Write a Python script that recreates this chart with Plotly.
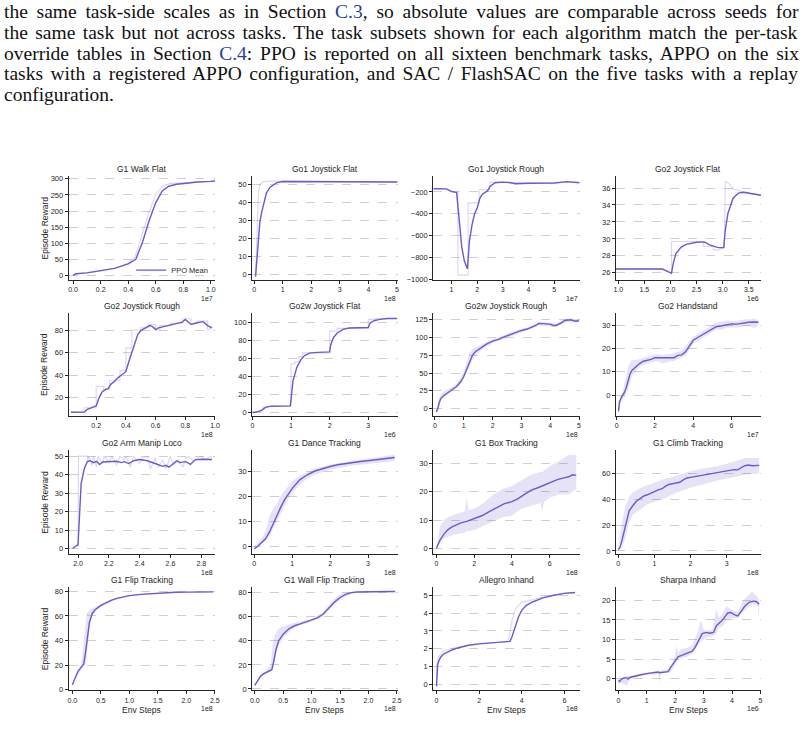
import plotly.graph_objects as go
from plotly.subplots import make_subplots

W, H = 805, 734

# ---------------- data (x in units of the offset shown under each axis) ----------------
titles = ["G1 Walk Flat", "Go1 Joystick Flat", "Go1 Joystick Rough", "Go2 Joystick Flat",
          "Go2 Joystick Rough", "Go2w Joystick Flat", "Go2w Joystick Rough", "Go2 Handstand",
          "Go2 Arm Manip Loco", "G1 Dance Tracking", "G1 Box Tracking", "G1 Climb Tracking",
          "G1 Flip Tracking", "G1 Wall Flip Tracking", "Allegro Inhand", "Sharpa Inhand"]
offsets = ["1e7", "1e8", "1e7", "1e6", "1e8", "1e6", "1e8", "1e7",
           "1e8", "1e8", "1e8", "1e8", "1e8", "1e8", "1e8", "1e6"]

# 1 G1 Walk Flat
walk_x = [0, 0.02, 0.1, 0.2, 0.3, 0.4, 0.455, 0.503, 0.551, 0.6, 0.647, 0.695, 0.75, 0.84, 0.9, 1.0, 1.03]
walk_y = [0, 5, 8, 14, 22, 36, 50, 102, 169, 226, 262, 277, 283, 287, 290, 292, 293]
walk_raw_x = [0, 0.1, 0.2, 0.3, 0.4, 0.45, 0.5, 0.55, 0.6, 0.65, 0.7, 0.8, 0.9, 1.03]
walk_raw_y = [3, 8, 14, 22, 38, 58, 125, 195, 252, 278, 285, 288, 291, 293]

# 2 Go1 Joystick Flat
g1f_x = [0.05, 0.1, 0.14, 0.2, 0.26, 0.35, 0.43, 0.55, 0.78, 1, 2, 3, 4, 5.02]
g1f_y = [-1, 8, 19.7, 29, 34.4, 41, 45.4, 48.5, 51, 51.8, 51.8, 51.5, 51.4, 51.5]
g1f_raw_x = [0.05, 0.1, 0.15, 0.2, 0.3, 0.5, 1, 5.02]
g1f_raw_y = [-1, 30, 45, 50, 51.5, 52, 52, 51.5]

# 3 Go1 Joystick Rough
g1r_x = [0.3, 0.8, 1.0, 1.2, 1.3, 1.4, 1.5, 1.62, 1.7, 1.8, 1.9, 2.0, 2.1, 2.2, 2.4, 2.5, 2.7,
         3.0, 3.3, 3.5, 4.0, 5.0, 5.5, 5.99]
g1r_y = [-170, -172, -195, -205, -450, -700, -830, -903, -650, -500, -400, -350, -260, -220,
         -190, -150, -115, -110, -115, -125, -120, -118, -105, -115]
g1r_raw_x = [0.3, 0.8, 0.95, 1.25, 1.25, 1.65, 1.65, 2.08, 2.08, 2.48, 2.5, 3.0, 4.0, 5.0, 5.99]
g1r_raw_y = [-170, -170, -200, -200, -960, -960, -300, -300, -180, -180, -110, -110, -118, -115, -112]

# 4 Go2 Joystick Flat
g2f_x = [0.955, 1.85, 1.9, 2.0, 2.02, 2.05, 2.1, 2.2, 2.3, 2.5, 2.65, 2.75, 2.9, 3.0, 3.02,
         3.05, 3.1, 3.2, 3.3, 3.4, 3.6, 3.735]
g2f_y = [26.45, 26.45, 26.3, 26.0, 25.95, 27, 28.2, 29.0, 29.35, 29.6, 29.65, 29.3, 29.0, 28.95,
         29.0, 31, 33, 34.8, 35.4, 35.5, 35.3, 35.15]
g2f_raw_x = [0.955, 1.85, 2.0, 2.02, 2.02, 2.63, 2.63, 2.82, 2.82, 2.95, 2.95, 3.03, 3.05, 3.12,
             3.2, 3.35, 3.5, 3.735]
g2f_raw_y = [26.45, 26.45, 26.0, 26.0, 29.7, 29.7, 29.1, 29.1, 28.7, 28.7, 28.95, 28.95, 36.8,
             36.5, 35.9, 35.6, 35.4, 35.15]

# 5 Go2 Joystick Rough
g2r_x = [0.03, 0.12, 0.14, 0.2, 0.22, 0.24, 0.26, 0.28, 0.3, 0.32, 0.35, 0.38, 0.4, 0.42, 0.44,
         0.46, 0.48, 0.5, 0.53, 0.56, 0.58, 0.6, 0.62, 0.65, 0.7, 0.75, 0.78, 0.8, 0.82, 0.84,
         0.88, 0.92, 0.95, 0.98]
g2r_y = [7, 7.2, 9.5, 12.5, 20, 25, 27, 28, 32, 34, 38, 41, 43, 52, 60, 70, 76, 79.5, 82, 84,
         83, 80.5, 82, 83, 84.5, 86, 87, 89.5, 87, 85, 86.5, 87.5, 84, 82]
g2r_raw_x = [0.03, 0.12, 0.12, 0.2, 0.2, 0.25, 0.25, 0.29, 0.29, 0.36, 0.36, 0.4, 0.4, 0.44,
             0.44, 0.5, 0.5, 0.55, 0.55, 0.6, 0.6, 0.63, 0.63, 0.7, 0.7, 0.78, 0.78, 0.84,
             0.84, 0.88, 0.88, 0.95, 0.95, 0.98]
g2r_raw_y = [7, 7, 11, 11, 30, 30, 27, 27, 35, 35, 44, 44, 64, 64, 80, 80, 82, 82, 85, 85,
             80, 80, 84, 84, 86, 86, 90, 90, 86, 86, 88, 88, 80, 82]

# 6 Go2w Joystick Flat
g2wf_x = [0, 0.15, 0.25, 0.35, 0.5, 0.7, 0.98, 1.0, 1.05, 1.15, 1.25, 1.35, 1.5, 1.7, 2.0,
          2.03, 2.1, 2.2, 2.35, 2.5, 2.8, 3.0, 3.05, 3.15, 3.3, 3.5, 3.75]
g2wf_y = [0, 1, 3, 6, 7, 7.3, 7.3, 15, 35, 50, 58, 63, 66, 66.5, 67, 75, 83, 88, 92, 93.5, 94,
          94, 99, 101.5, 103, 104, 104]
g2wf_raw_x = [0, 0.1, 0.1, 0.25, 0.28, 0.4, 0.4, 1.0, 1.0, 1.1, 1.1, 1.2, 1.2, 1.3, 1.3, 2.0,
              2.0, 2.2, 2.2, 3.0, 3.0, 3.2, 3.2, 3.75]
g2wf_raw_y = [0, 0, 1, 1, 6, 6, 7, 7, 54, 54, 56, 56, 62, 62, 66, 66, 90, 90, 93, 93, 103,
              103, 104, 104]

# 7 Go2w Joystick Rough
g2wr_x = [0.05, 0.1, 0.15, 0.2, 0.3, 0.45, 0.6, 0.75, 0.9, 1.0, 1.1, 1.2, 1.3, 1.4, 1.6, 1.8,
          2.0, 2.1, 2.2, 2.4, 2.6, 2.8, 3.0, 3.2, 3.4, 3.5, 3.6, 3.8, 4.0, 4.1, 4.2, 4.4, 4.5,
          4.7, 4.8, 4.9, 5.0]
g2wr_y = [-5, 0, 8, 14, 18, 22, 26, 31, 38, 45, 55, 66, 75, 80, 86, 91, 95, 96, 97.5, 101, 104,
          107.5, 110, 112, 115, 117, 120, 120, 119, 117, 117, 121, 124, 125, 124.5, 123, 124]
g2wr_band_x = [0.05, 0.1, 0.2, 0.3, 0.45, 0.6, 0.75, 0.9, 1.0, 1.1, 1.2, 1.3, 1.4, 1.6, 1.8,
               2.0, 2.2, 2.4, 2.6, 2.8, 3.0, 3.2, 3.4, 3.6, 3.8, 4.0, 4.2, 4.4, 4.6, 4.8, 5.0]
g2wr_hi = [-3, 8, 20, 24, 27, 30, 35, 44, 52, 66, 78, 84, 86, 89, 94, 98, 100, 104, 107, 110,
           112, 114, 118, 122, 122, 121, 119, 124, 127, 127, 125]
g2wr_lo = [-6, -2, 12, 16, 20, 24, 29, 35, 42, 50, 60, 68, 75, 82, 88, 92, 95, 99, 102, 105,
           108, 110, 113, 117, 117, 116, 115, 119, 122, 121, 122]

# 8 Go2 Handstand
g2h_x = [0.1, 0.15, 0.25, 0.4, 0.5, 0.6, 0.7, 0.8, 1.0, 1.2, 1.4, 1.6, 1.8, 2.0, 2.2, 2.4, 2.6,
         2.8, 3.0, 3.2, 3.4, 3.6, 3.8, 4.0, 4.3, 4.6, 4.9, 5.2, 5.5, 5.8, 6.0, 6.3, 6.6, 6.9,
         7.2, 7.4]
g2h_y = [-7, -3, -1, 1, 3, 6, 9, 10.5, 12, 13.5, 14.5, 14.8, 15.3, 16, 16, 15.8, 15.7, 15.8, 16,
         17, 17.2, 18.5, 21, 23.5, 25, 26.5, 28, 29.3, 29.7, 30.3, 30.5, 30.4, 30.9, 31.2, 31.3,
         31.2]
g2h_band_x = [0.1, 0.2, 0.3, 0.4, 0.5, 0.6, 0.7, 0.8, 1.0, 1.2, 1.4, 1.6, 1.8, 2.0, 2.2, 2.4,
              2.6, 2.8, 3.0, 3.2, 3.4, 3.6, 3.8, 4.0, 4.3, 4.6, 4.9, 5.2, 5.5, 5.8, 6.1, 6.4,
              6.7, 7.0, 7.2, 7.4]
g2h_hi = [-6, -1, 1, 4, 8, 12, 14, 15, 15, 15.5, 16, 16.5, 17, 17.5, 17.5, 17, 17.5, 17.5, 18,
          18.5, 19, 21, 23, 25, 26.5, 28, 29.5, 31, 31.5, 32, 31.5, 32, 32.5, 32.5, 32.8, 32]
g2h_lo = [-7.5, -4, -2, -1, 0, 2, 5, 8, 10, 12, 13, 13.5, 14, 14.5, 14.5, 13.5, 14, 14.5, 14.5,
          15.5, 16, 17, 19.5, 22, 23.5, 25, 26.5, 28, 28, 29, 29, 29, 29.5, 29.5, 28.5, 30]

# 9 Go2 Arm Manip Loco
arm_x = [1.965, 1.98, 1.99, 2.0, 2.01, 2.02, 2.04, 2.06, 2.08, 2.1, 2.12, 2.14, 2.16, 2.2, 2.25,
         2.28, 2.3, 2.33, 2.36, 2.4, 2.45, 2.5, 2.53, 2.55, 2.57, 2.59, 2.62, 2.64, 2.66, 2.7,
         2.73, 2.76, 2.8, 2.84, 2.87]
arm_y = [0, 1.2, 1.5, 2, 20, 35, 43, 47, 47.5, 46.5, 47.2, 45.5, 46.8, 47, 47.2, 46.5, 47, 46,
         47.5, 48.2, 47.5, 46, 45, 44.5, 45, 44, 46, 47.5, 46.5, 47, 45.5, 48, 48.3, 48.2, 48.2]
arm_raw_x = [1.965, 1.99, 2.0, 2.003, 2.06, 2.065, 2.07, 2.09, 2.1, 2.12, 2.13, 2.16, 2.17, 2.2,
             2.22, 2.25, 2.27, 2.3, 2.31, 2.34, 2.36, 2.4, 2.42, 2.45, 2.47, 2.5, 2.52, 2.55,
             2.57, 2.6, 2.62, 2.65, 2.68, 2.7, 2.72, 2.75, 2.78, 2.8, 2.83, 2.86, 2.87]
arm_raw_y = [0, 2, 2, 50, 50, 47, 50, 45, 50, 44, 50, 46, 50, 47, 50, 45, 50, 48, 50, 44, 50, 46,
             49, 50, 43, 49, 44, 48, 43, 50, 45, 48, 44, 49, 50, 47, 49, 50, 48, 50, 49]

# 10 G1 Dance Tracking
dance_x = [0, 0.1, 0.2, 0.3, 0.4, 0.5, 0.6, 0.7, 0.8, 0.9, 1.0, 1.2, 1.4, 1.6, 1.8, 2.0, 2.2,
           2.5, 2.8, 3.1, 3.4, 3.7]
dance_y = [-1, 0, 1.5, 3, 5.5, 9, 12.5, 15.5, 18.5, 21, 23, 26.5, 28.5, 30, 31, 31.8, 32.5,
           33.3, 33.8, 34.3, 34.8, 35.4]
dance_band_x = [0, 0.2, 0.3, 0.4, 0.5, 0.6, 0.7, 0.8, 0.9, 1.0, 1.2, 1.4, 1.6, 2.0, 2.5, 3.0, 3.7]
dance_hi = [0, 3, 6, 12, 15, 17, 20, 22, 24, 26, 28, 29.5, 31, 32.5, 34, 35, 36.5]
dance_lo = [-1.5, 1, 2, 4, 7, 10, 13, 16, 19, 21, 24.5, 27, 28.5, 30.5, 32, 33, 34]

# 11 G1 Box Tracking
box_x = [0, 0.2, 0.4, 0.6, 0.8, 1.0, 1.3, 1.6, 2.0, 2.4, 2.8, 3.2, 3.6, 4.0, 4.3, 4.6, 5.0,
         5.4, 5.7, 6.0, 6.4, 6.8, 7.0, 7.2, 7.4]
box_y = [0, 3, 5, 6.5, 7.5, 8.2, 9, 9.5, 10.5, 11.5, 13, 14.5, 15.8, 16.5, 17.5, 18.8, 20.5,
         21.5, 22.3, 23.2, 24.3, 25, 25.3, 26, 25.8]
box_band_x = [0, 0.2, 0.4, 0.6, 1.0, 1.5, 1.6, 1.7, 2.0, 2.5, 3.0, 3.5, 4.0, 4.5, 5.0, 5.5,
              5.6, 5.7, 6.0, 6.5, 7.0, 7.4]
box_hi = [0, 8, 10, 11, 12, 13, 18, 13.5, 14, 16, 19, 21, 22, 24, 26, 27, 27, 27.5, 29, 31, 33, 33]
box_lo = [-0.5, 2, 3.5, 4, 5, 5.5, 6, 6, 6.5, 8, 9.5, 11, 11.5, 14, 15, 16, 13, 16.5, 18, 19, 19, 21]

# 12 G1 Climb Tracking
climb_x = [0, 0.05, 0.1, 0.15, 0.2, 0.25, 0.3, 0.4, 0.5, 0.6, 0.7, 0.8, 0.9, 1.0, 1.1, 1.2,
           1.3, 1.4, 1.5, 1.6, 1.7, 1.8, 1.9, 2.0, 2.2, 2.4, 2.6, 2.8, 3.0, 3.2, 3.3, 3.4, 3.5,
           3.6, 3.7, 3.9]
climb_y = [1, 3, 8, 14, 20, 26, 31, 35, 38.5, 40.5, 42.5, 43.5, 45, 46, 47.3, 48, 50, 51.5, 52,
           52.5, 53.2, 55, 56.5, 57, 58, 59, 60, 61.5, 62.5, 63, 62.8, 64.5, 66, 66.5, 66, 66.3]
climb_band_x = [0, 0.1, 0.2, 0.3, 0.4, 0.5, 0.6, 0.7, 0.8, 1.0, 1.3, 1.6, 2.0, 2.4, 2.8, 3.2,
                3.5, 3.9]
climb_hi = [2, 22, 35, 42, 45, 47, 48.5, 50, 51, 53, 56, 58, 62, 64, 66, 69, 72, 72]
climb_lo = [0, 3, 10, 22, 28, 30, 32, 34, 36, 38, 41, 45, 49, 52, 55, 57, 59, 60]

# 13 G1 Flip Tracking
flip_x = [0, 0.05, 0.1, 0.15, 0.2, 0.23, 0.26, 0.3, 0.35, 0.4, 0.5, 0.6, 0.7, 0.8, 0.9, 1.0,
          1.2, 1.4, 1.6, 1.8, 2.0, 2.2, 2.47]
flip_y = [4, 10, 15, 18, 21, 30, 42, 55, 62, 65, 68.5, 71, 73, 74.5, 75.8, 76.5, 77.5, 78.2,
          78.8, 79.2, 79.3, 79.4, 79.5]
flip_band_x = [0, 0.05, 0.1, 0.15, 0.18, 0.22, 0.25, 0.3, 0.35, 0.4, 0.5, 0.6, 0.7, 0.8, 1.0,
               1.5, 2.47]
flip_hi = [5, 12, 16, 20, 30, 50, 62, 65, 66, 67, 69.5, 72, 73.5, 75, 76.8, 78.5, 79.8]
flip_lo = [3, 9, 13, 16, 18, 20, 26, 50, 60, 63.5, 67.5, 70, 72, 73.5, 76, 78, 79.2]

# 14 G1 Wall Flip Tracking
wall_x = [0, 0.05, 0.1, 0.15, 0.2, 0.25, 0.3, 0.33, 0.37, 0.42, 0.5, 0.6, 0.7, 0.8, 0.9, 1.0,
          1.1, 1.2, 1.3, 1.4, 1.5, 1.6, 1.7, 1.8, 2.0, 2.2, 2.47]
wall_y = [3, 7, 10.5, 12.5, 13.5, 14.5, 16, 22, 32, 40, 45.5, 50, 52.5, 54, 55.5, 57, 59, 62,
          67, 72, 76, 78.5, 80, 80.5, 80.8, 81, 81]
wall_band_x = [0, 0.1, 0.2, 0.28, 0.32, 0.38, 0.42, 0.5, 0.7, 1.0, 1.2, 1.4, 1.55, 1.7, 1.8, 2.47]
wall_hi = [4, 12, 15, 20, 40, 48, 50, 52, 55, 58, 64, 75, 80, 81, 81.2, 81.5]
wall_lo = [2.5, 9.5, 12.5, 14.5, 18, 30, 36, 43, 51, 56, 60, 70, 76, 79, 80, 80.5]

# 15 Allegro Inhand
alle_x = [0, 0.02, 0.05, 0.1, 0.2, 0.35, 0.5, 0.75, 1.0, 1.5, 2.0, 2.5, 3.0, 3.3, 3.45, 3.55,
          3.7, 3.85, 4.0, 4.2, 4.5, 5.0, 5.5, 6.0, 6.5]
alle_y = [-0.1, 0.8, 1.1, 1.3, 1.55, 1.72, 1.82, 1.95, 2.05, 2.2, 2.28, 2.34, 2.38, 2.4, 2.42,
          2.7, 3.3, 3.8, 4.15, 4.42, 4.62, 4.85, 5.0, 5.1, 5.15]
alle_raw_x = [0, 0.03, 0.1, 0.3, 0.5, 1.0, 2.0, 3.0, 3.3, 3.4, 3.55, 3.7, 3.85, 4.0, 4.5, 5.0,
              6.0, 6.5]
alle_raw_y = [0, 1.3, 1.55, 1.85, 1.95, 2.1, 2.3, 2.38, 2.4, 2.6, 3.6, 4.2, 4.45, 4.6, 4.75,
              4.9, 5.1, 5.15]

# 16 Sharpa Inhand
sharpa_x = [0, 0.05, 0.1, 0.2, 0.3, 0.35, 0.4, 0.6, 0.8, 1.0, 1.2, 1.4, 1.45, 1.6, 1.75, 1.85,
            2.0, 2.1, 2.25, 2.4, 2.6, 2.7, 2.85, 2.95, 3.1, 3.2, 3.35, 3.45, 3.6, 3.7, 3.85,
            3.95, 4.1, 4.2, 4.3, 4.45, 4.6, 4.75, 4.85, 4.95]
sharpa_y = [-0.5, -0.7, -0.2, 0.2, 0.2, -0.1, 0.3, 0.7, 1.0, 1.3, 1.5, 1.7, 1.5, 1.6, 1.8, 3,
            4.5, 5.6, 6, 6.5, 7, 8, 10, 11.5, 11.8, 11.6, 11.8, 13.5, 14.5, 15.3, 16.8, 16.9,
            16.3, 16, 17, 18.5, 19.5, 19.8, 19.7, 19]
sharpa_band_x = [0, 0.1, 0.3, 0.4, 0.5, 1.0, 1.4, 1.45, 1.5, 1.8, 1.9, 2.0, 2.05, 2.1, 2.2,
                 2.4, 2.6, 2.8, 2.9, 3.0, 3.1, 3.3, 3.45, 3.55, 3.7, 3.8, 3.9, 4.0, 4.2, 4.4,
                 4.6, 4.7, 4.8, 4.9, 4.95]
sharpa_hi = [0, 0.3, 0.6, 0.8, 0.9, 1.5, 2, 2, 2.1, 2.5, 4, 6, 8.5, 6.5, 7.5, 7.8, 8.5, 12, 15,
             12.5, 12.3, 12.5, 17.5, 15.5, 17, 18.5, 18, 17.5, 17, 20, 21.5, 22.3, 21.5, 21, 20]
sharpa_lo = [-1.5, -1, -1.8, 0, 0.2, 1, 1.2, -1, 1.3, 1.5, 2.2, 3.5, 4.2, 5, 5.2, 5.5, 6.3,
             8.5, 9.5, 10, 10.5, 10.8, 11.5, 13, 13.5, 15, 15.3, 15.5, 15.5, 17, 18.5, 19, 19,
             18.5, 15.5]

# axis ranges and tick steps
x_ranges = [[-0.032, 1.031], [-0.07, 5.02], [0.29, 5.99], [0.955, 3.735],
            [0.015, 1.001], [-0.01, 3.76], [-0.06, 5.02], [-0.035, 7.54],
            [1.9395, 2.89], [-0.052, 3.775], [-0.17, 7.58], [-0.066, 3.95],
            [-0.064, 2.506], [-0.047, 2.512], [-0.155, 6.716], [-0.085, 5.02]]
y_ranges = [[-13.6, 309.3], [-2.76, 54.96], [-1003, -52], [25.18, 37.44],
            [3.76, 95.3], [-3.7, 110.2], [-10.4, 134.8], [-8.95, 35.25],
            [-2.9, 53.2], [-3.05, 38.3], [-2.0, 34.7], [-2.3, 78.0],
            [-0.4, 83.5], [-1.07, 84.7], [-0.317, 5.46], [-2.96, 23.4]]
x_dticks = [0.2, 1, 1, 0.5, 0.2, 1, 1, 2, 0.2, 1, 2, 1, 0.5, 0.5, 2, 1]
x_fmts = [".1f", "d", "d", ".1f", ".1f", "d", "d", "d", ".1f", "d", "d", "d", ".1f", ".1f", "d", "d"]
y_tick0 = [0, 0, -1000, 26, 0, 0, 0, 0, 0, 0, 0, 0, 0, 0, 0, 0]
y_dticks = [50, 10, 200, 2, 20, 20, 25, 10, 10, 10, 10, 20, 20, 20, 1, 5]

mean_series = [(walk_x, walk_y), (g1f_x, g1f_y), (g1r_x, g1r_y), (g2f_x, g2f_y),
               (g2r_x, g2r_y), (g2wf_x, g2wf_y), (g2wr_x, g2wr_y), (g2h_x, g2h_y),
               (arm_x, arm_y), (dance_x, dance_y), (box_x, box_y), (climb_x, climb_y),
               (flip_x, flip_y), (wall_x, wall_y), (alle_x, alle_y), (sharpa_x, sharpa_y)]
raw_lines = {0: (walk_raw_x, walk_raw_y), 1: (g1f_raw_x, g1f_raw_y), 2: (g1r_raw_x, g1r_raw_y),
             3: (g2f_raw_x, g2f_raw_y), 4: (g2r_raw_x, g2r_raw_y), 5: (g2wf_raw_x, g2wf_raw_y),
             8: (arm_raw_x, arm_raw_y), 14: (alle_raw_x, alle_raw_y)}
bands = {6: (g2wr_band_x, g2wr_lo, g2wr_hi), 7: (g2h_band_x, g2h_lo, g2h_hi),
         9: (dance_band_x, dance_lo, dance_hi), 10: (box_band_x, box_lo, box_hi),
         11: (climb_band_x, climb_lo, climb_hi), 12: (flip_band_x, flip_lo, flip_hi),
         13: (wall_band_x, wall_lo, wall_hi), 15: (sharpa_band_x, sharpa_lo, sharpa_hi)}

paragraph = [
    'the same task-side scales as in Section <span style="color:#2a3f9c">C.3</span>, so absolute values are comparable across seeds for',
    'the same task but not across tasks. The task subsets shown for each algorithm match the per-task',
    'override tables in Section <span style="color:#2a3f9c">C.4</span>: PPO is reported on all sixteen benchmark tasks, APPO on the six',
    'tasks with a registered APPO configuration, and SAC / FlashSAC on the five tasks with a replay',
    'configuration.',
]
para_spacing = [3.9, 2.55, 2.9, 2.6, 0]

# ---------------- styling / layout ----------------
MEAN = "#6a5acd"
BAND = "rgba(106,90,205,0.17)"
RAW = "rgba(106,90,205,0.25)"
FONT = "Liberation Sans, Arial, sans-serif"
INK = "#262626"

col_px = [(67.3, 215), (252.3, 399), (435, 582.7), (619.3, 765.7)]
row_px = [(176, 280.7), (314, 417.7), (452.3, 556.7), (590, 694)]

fig = make_subplots(rows=4, cols=4)

for i in range(16):
    r, c = divmod(i, 4)
    if i in bands:
        bx, lo, hi = bands[i]
        fig.add_trace(go.Scatter(x=list(bx) + list(bx)[::-1], y=list(hi) + list(lo)[::-1],
                                 fill="toself", fillcolor=BAND, line=dict(width=0),
                                 mode="lines", hoverinfo="skip", showlegend=False),
                      row=r + 1, col=c + 1)
    if i in raw_lines:
        rx, ry = raw_lines[i]
        fig.add_trace(go.Scatter(x=rx, y=ry, mode="lines", line=dict(color=RAW, width=1.1),
                                 hoverinfo="skip", showlegend=False), row=r + 1, col=c + 1)
    mx, my = mean_series[i]
    fig.add_trace(go.Scatter(x=mx, y=my, mode="lines", line=dict(color=MEAN, width=1.4),
                             name="PPO Mean", showlegend=(i == 0)), row=r + 1, col=c + 1)

annotations = []
for i in range(16):
    r, c = divmod(i, 4)
    x0, x1 = col_px[c]
    y0, y1 = row_px[r]
    sfx = "" if i == 0 else str(i + 1)
    fig.layout["xaxis" + sfx].update(
        domain=[x0 / W, x1 / W], range=x_ranges[i], tickmode="linear", tick0=0,
        dtick=x_dticks[i], tickformat=x_fmts[i], showgrid=False, zeroline=False,
        showline=True, linecolor=INK, linewidth=1, ticks="outside", ticklen=3,
        tickwidth=0.8, tickcolor=INK, tickfont=dict(size=7, color=INK, family=FONT))
    fig.layout["yaxis" + sfx].update(
        domain=[1 - y1 / H, 1 - y0 / H], range=y_ranges[i], tickmode="linear",
        tick0=y_tick0[i], dtick=y_dticks[i], showgrid=True, gridcolor="#cfcfcf",
        griddash="dash", gridwidth=0.7, zeroline=False, showline=True, linecolor=INK,
        linewidth=1, ticks="outside", ticklen=3, tickwidth=0.8, tickcolor=INK,
        tickfont=dict(size=7.5, color=INK, family=FONT))
    # subplot title
    annotations.append(dict(text=titles[i], x=(x0 + x1) / 2 / W, y=1 - (y0 - 7) / H,
                            xref="paper", yref="paper", xanchor="center", yanchor="middle",
                            showarrow=False, font=dict(size=8.5, color=INK, family=FONT)))
    # offset text
    annotations.append(dict(text=offsets[i], x=x1 / W, y=1 - (y1 + 18.5) / H,
                            xref="paper", yref="paper", xanchor="right", yanchor="middle",
                            showarrow=False, font=dict(size=7, color=INK, family=FONT)))
    if c == 0:
        annotations.append(dict(text="Episode Reward", x=43 / W, y=1 - (y0 + y1) / 2 / H,
                                xref="paper", yref="paper", xanchor="center", yanchor="middle",
                                textangle=-90, showarrow=False,
                                font=dict(size=8.5, color=INK, family=FONT)))
    if r == 3:
        annotations.append(dict(text="Env Steps", x=(x0 + x1) / 2 / W, y=1 - (y1 + 19.5) / H,
                                xref="paper", yref="paper", xanchor="center", yanchor="middle",
                                showarrow=False, font=dict(size=8.5, color=INK, family=FONT)))

line_y = [10.5, 31.5, 52.5, 73.5, 94.5]
for k, txt in enumerate(paragraph):
    annotations.append(dict(text='<span style="word-spacing:%.2fpx">%s</span>' % (para_spacing[k], txt),
                            x=0.5 / W, y=1 - line_y[k] / H, xref="paper", yref="paper",
                            xanchor="left", yanchor="middle", showarrow=False,
                            font=dict(size=19.5, color="#111111",
                                      family="Liberation Serif, Times New Roman, serif")))

fig.update_layout(
    width=W, height=H, margin=dict(l=0, r=0, t=0, b=0),
    paper_bgcolor="white", plot_bgcolor="white",
    annotations=annotations,
    legend=dict(x=213 / W, y=1 - 271 / H, xanchor="right", yanchor="middle",
                bgcolor="rgba(0,0,0,0)", font=dict(size=7.5, color=INK, family=FONT),
                itemwidth=30, tracegroupgap=0),
)

fig.write_html("out.html")
